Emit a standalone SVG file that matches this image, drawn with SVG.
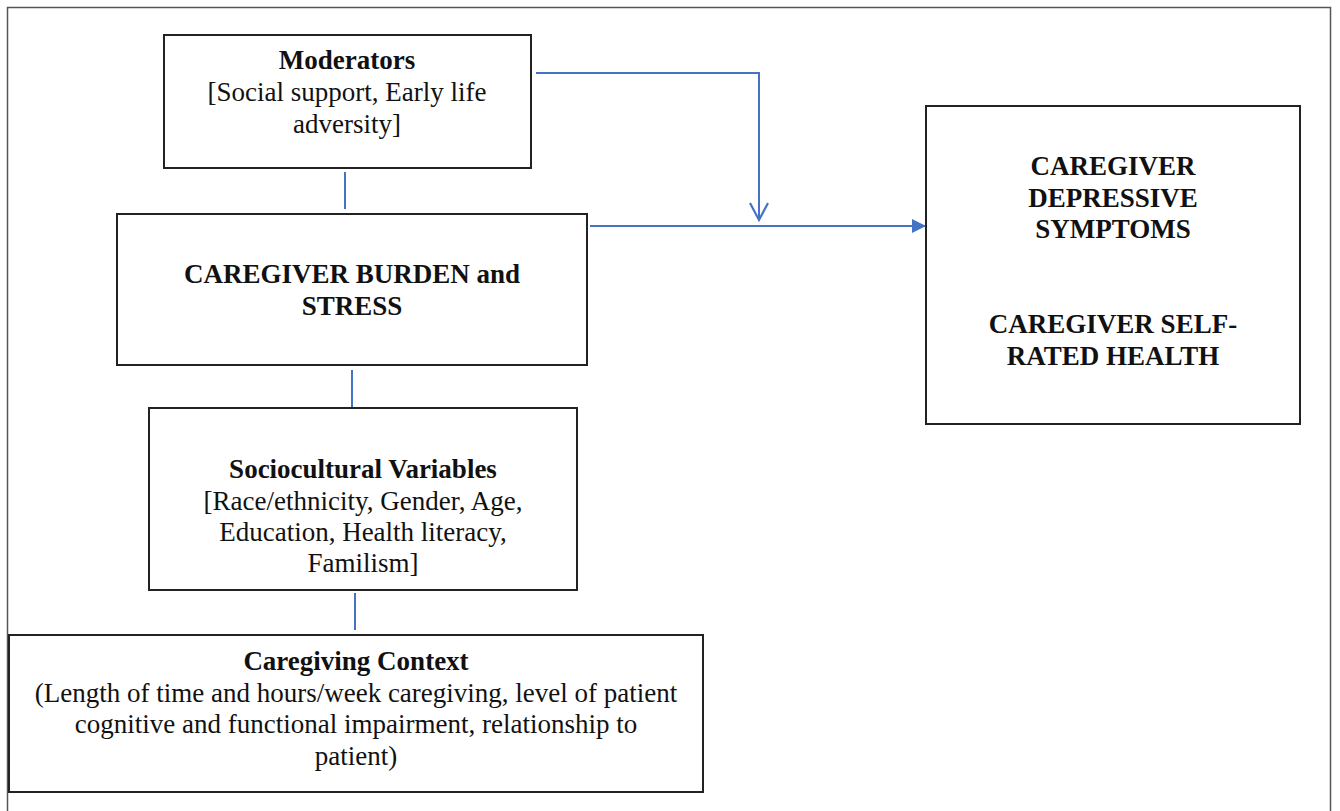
<svg xmlns="http://www.w3.org/2000/svg" width="1340" height="811" viewBox="0 0 1340 811">
<style>
.box{fill:#fff;stroke:#222;stroke-width:2}
.t{font-family:"Liberation Serif","Times New Roman",serif;font-size:27px;fill:#111;text-anchor:middle}
.b{font-weight:bold}
.c{stroke:#4472C4;stroke-width:2;fill:none}
</style>
<defs>
<marker id="tri" markerWidth="14" markerHeight="14" refX="14" refY="7" orient="auto" markerUnits="userSpaceOnUse">
<path d="M0,0 L14,7 L0,14 Z" fill="#4472C4"/>
</marker>
<marker id="vee" markerWidth="22" markerHeight="20" refX="19" refY="10" orient="auto" markerUnits="userSpaceOnUse">
<path d="M2,1 L19,10 L2,19" fill="none" stroke="#4472C4" stroke-width="2.2"/>
</marker>
</defs>
<rect x="0" y="0" width="1340" height="811" fill="#fff"/>
<rect x="7.5" y="7.5" width="1323" height="830" fill="none" stroke="#555" stroke-width="1.5"/>
<g id="connectors">
<line class="c" x1="345" y1="172" x2="345" y2="209"/>
<line class="c" x1="352" y1="370" x2="352" y2="407"/>
<line class="c" x1="355" y1="593" x2="355" y2="630"/>
<polyline class="c" points="536,73 759,73 759,220" marker-end="url(#vee)"/>
<line class="c" x1="590" y1="226" x2="926" y2="226" marker-end="url(#tri)"/>
</g>
<g id="moderators">
<rect class="box" x="164" y="35" width="367" height="133"/>
<text class="t b" x="347" y="69">Moderators</text>
<text class="t" x="347" y="101">[Social support, Early life</text>
<text class="t" x="347" y="133">adversity]</text>
</g>
<g id="burden">
<rect class="box" x="117" y="214" width="470" height="151"/>
<text class="t b" x="352" y="283">CAREGIVER BURDEN and</text>
<text class="t b" x="352" y="315">STRESS</text>
</g>
<g id="sociocultural">
<rect class="box" x="149" y="408" width="428" height="182"/>
<text class="t b" x="363" y="478">Sociocultural Variables</text>
<text class="t" x="363" y="510">[Race/ethnicity, Gender, Age,</text>
<text class="t" x="363" y="541">Education, Health literacy,</text>
<text class="t" x="363" y="572">Familism]</text>
</g>
<g id="context">
<rect class="box" x="9" y="635" width="694" height="157"/>
<text class="t b" x="356" y="670">Caregiving Context</text>
<text class="t" x="356" y="702">(Length of time and hours/week caregiving, level of patient</text>
<text class="t" x="356" y="733">cognitive and functional impairment, relationship to</text>
<text class="t" x="356" y="765">patient)</text>
</g>
<g id="outcomes">
<rect class="box" x="926" y="106" width="374" height="318"/>
<text class="t b" x="1113" y="175">CAREGIVER</text>
<text class="t b" x="1113" y="207">DEPRESSIVE</text>
<text class="t b" x="1113" y="238">SYMPTOMS</text>
<text class="t b" x="1113" y="333">CAREGIVER SELF-</text>
<text class="t b" x="1113" y="365">RATED HEALTH</text>
</g>
</svg>
